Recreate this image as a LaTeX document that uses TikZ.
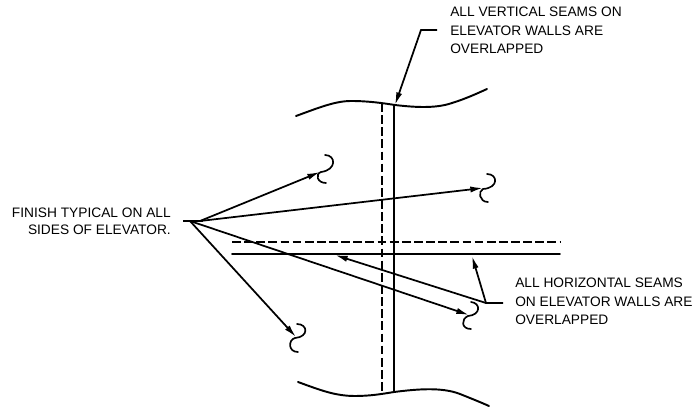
\documentclass[tikz,border=0pt]{standalone}
\usepackage{fontspec}
\setmainfont{Liberation Sans}
\usetikzlibrary{arrows.meta}
\tikzset{
  wall/.style={line width=1.45pt,line cap=round},
  walldash/.style={line width=1.45pt,dash pattern=on 6.6pt off 2.5pt},
  lead/.style={line width=1.3pt},
  leadarrow/.style={lead,-{Latex[length=9.5pt,width=4.6pt]}},
  swirl/.style={line width=1.25pt,line cap=round},
  note/.style={inner sep=0pt,font=\fontsize{10.3pt}{13.7pt}\selectfont,align=left,anchor=north west},
}
\begin{document}
\begin{tikzpicture}[x=0.75pt,y=-0.75pt]
\useasboundingbox (0,0) rectangle (696,409);
% wall edges
\draw[wall] (296,116) .. controls (318,108) and (335,101) .. (351,101) .. controls (368,101) and (382,103) .. (395,105) .. controls (412,107) and (435,109) .. (452,103) .. controls (465,99) and (476,94) .. (487,89);
\draw[wall] (298,382) .. controls (320,390) and (335,396) .. (355,396) .. controls (370,396) and (382,394) .. (394,392) .. controls (418,389) and (442,387) .. (460,394) .. controls (470,398) and (480,402) .. (489,406);
\draw[wall] (394,105) -- (394,392);
\draw[walldash] (382,103) -- (382,394);
\draw[wall] (232,254) -- (560,254);
\draw[walldash] (232,242) -- (560,242);
% notes
\node[note] (nv) at (450,7) {ALL VERTICAL SEAMS ON\\ELEVATOR WALLS ARE\\OVERLAPPED};
\node[note] (nh) at (515,278) {ALL HORIZONTAL SEAMS\\ON ELEVATOR WALLS ARE\\OVERLAPPED};
\node[note,align=right,anchor=north east,font=\fontsize{10.3pt}{12.2pt}\selectfont] (nf) at (171,208) {FINISH TYPICAL ON ALL\\SIDES OF ELEVATOR.};
% leaders
\coordinate (vs) at (437,30); \coordinate (vk) at (421,30); \coordinate (vt) at (395,105);
\draw[leadarrow] (vs) -- (vk) -- (vt);
\coordinate (hs) at (503,303); \coordinate (hk) at (486,303);
\coordinate (ht1) at (472,256); \coordinate (ht2) at (335,255);
\draw[leadarrow] (hs) -- (hk) -- (ht1);
\draw[leadarrow] (hk) -- (ht2);
\coordinate (fs) at (183,221); \coordinate (fk) at (190,221);
\coordinate (a1) at (320,172); \coordinate (a2) at (483,188);
\coordinate (a3) at (469,315); \coordinate (a4) at (296,337);
\draw[lead] (fs) -- (203,221);
\draw[leadarrow] (200,221) -- (a1);
\draw[leadarrow] (200,221) -- (a2);
\draw[leadarrow] (190,221) -- (a3);
\draw[leadarrow] (190,221) -- (a4);
% section swirls
\draw[swirl] (325,155) .. controls (336,155) and (337,170) .. (321,172) .. controls (315,174) and (317,183) .. (326,183);
\draw[swirl] (487,174) .. controls (498,174) and (499,188) .. (483,189) .. controls (478,191) and (479,202) .. (488,202);
\draw[swirl] (471,302) .. controls (481,303) and (481,315) .. (468,316) .. controls (461,319) and (461,329) .. (471,329);
\draw[swirl] (297,324) .. controls (308,324) and (309,337) .. (295,338) .. controls (288,340) and (288,352) .. (298,352);
\end{tikzpicture}
\end{document}
